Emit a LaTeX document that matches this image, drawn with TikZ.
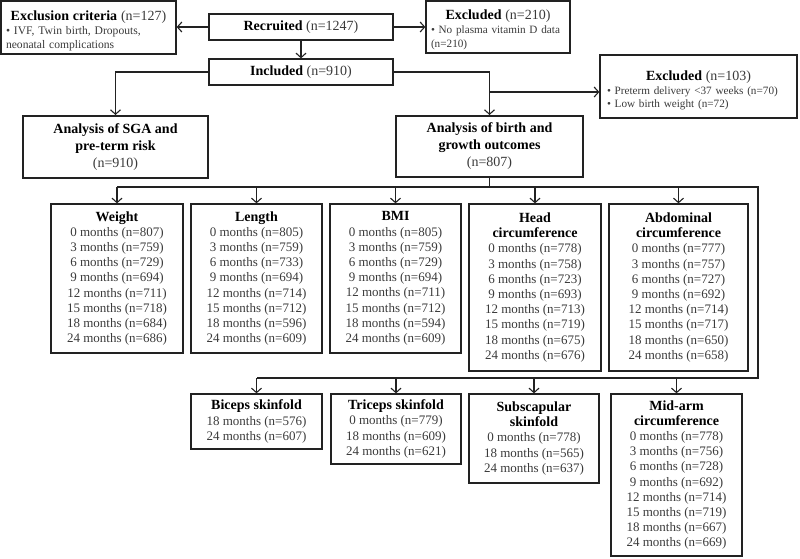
\documentclass[tikz,border=0pt]{standalone}
\usepackage{fontspec}
\setmainfont{Liberation Serif}
\usetikzlibrary{arrows.meta}
\definecolor{txtc}{HTML}{3A3A3A}
\definecolor{linec}{HTML}{222222}
\newcommand\hd[1]{{\fontsize{14}{16}\selectfont\bfseries\color{black}#1}}
\newcommand\hdl[2]{\makebox[\linewidth][c]{\rule{0pt}{#1}#2}}
\begin{document}
\begin{tikzpicture}[x=1pt,y=-1pt,
  box/.style={draw=linec,line width=1.3pt,inner sep=0pt,align=center,text=txtc,
    font=\fontsize{13}{15.2}\selectfont},
  bigbox/.style={box,line width=2pt,font=\fontsize{14}{17}\selectfont},
  exbox/.style={box,align=left,font=\fontsize{11.6}{14}\selectfont},
  wire/.style={draw=linec,line width=1.2pt},
  arr/.style={wire,-{Straight Barb[length=4.5pt,width=10pt,line width=1.1pt]}}
]
\useasboundingbox (0,0) rectangle (800,558);

% top row
\node[exbox,minimum width=175,minimum height=53,text width=165] (excl1) at (88.5,27.5)
  {\hdl{16pt}{{\fontsize{14}{16}\selectfont\hd{Exclusion criteria} (n=127)}}\\
   • IVF, Twin birth, Dropouts,\\ neonatal complications};
\node[box,minimum width=184,minimum height=26,font=\fontsize{14}{16}\selectfont] (rec) at (301,27)
  {\hd{Recruited} (n=1247)};
\node[exbox,minimum width=144,minimum height=52,text width=140,font=\fontsize{11.2}{14}\selectfont] (excl2) at (498,27)
  {\hdl{16pt}{{\fontsize{14}{16}\selectfont\hd{Excluded} (n=210)}}\\
   \hspace*{3pt}• No plasma vitamin D data\\ \hspace*{3pt}(n=210)};
\node[box,minimum width=184,minimum height=26,font=\fontsize{14}{16}\selectfont] (inc) at (301,72)
  {\hd{Included} (n=910)};
\node[exbox,minimum width=197,minimum height=63,text width=183,font=\fontsize{11.2}{13.5}\selectfont] (excl3) at (698.5,86.5)
  {\hdl{18pt}{{\fontsize{14}{16}\selectfont\hd{Excluded} (n=103)}}\\
   • Preterm delivery <37 weeks (n=70)\\ • Low birth weight (n=72)};

% analysis boxes
\node[bigbox,minimum width=185,minimum height=62] (sga) at (115.5,147)
  {\textbf{\color{black}Analysis of SGA and}\\ \textbf{\color{black}pre-term risk}\\ (n=910)};
\node[bigbox,minimum width=187,minimum height=61] (birth) at (489.5,146.5)
  {\textbf{\color{black}Analysis of birth and}\\ \textbf{\color{black}growth outcomes}\\ (n=807)};

% row 1
\node[box,minimum width=132,minimum height=149] (weight) at (117,278.5)
  {\hd{Weight}\\ 0 months (n=807)\\ 3 months (n=759)\\ 6 months (n=729)\\ 9 months (n=694)\\
   12 months (n=711)\\ 15 months (n=718)\\ 18 months (n=684)\\ 24 months (n=686)};
\node[box,minimum width=131,minimum height=149] (length) at (256.5,278.5)
  {\hd{Length}\\ 0 months (n=805)\\ 3 months (n=759)\\ 6 months (n=733)\\ 9 months (n=694)\\
   12 months (n=714)\\ 15 months (n=712)\\ 18 months (n=596)\\ 24 months (n=609)};
\node[box,minimum width=131,minimum height=149] (bmi) at (395.5,278.5)
  {\hd{BMI}\\ 0 months (n=805)\\ 3 months (n=759)\\ 6 months (n=729)\\ 9 months (n=694)\\
   12 months (n=711)\\ 15 months (n=712)\\ 18 months (n=594)\\ 24 months (n=609)};
\node[box,minimum width=132,minimum height=167] (head) at (535,287.5)
  {\hd{Head}\\ \hd{circumference}\\ 0 months (n=778)\\ 3 months (n=758)\\ 6 months (n=723)\\ 9 months (n=693)\\
   12 months (n=713)\\ 15 months (n=719)\\ 18 months (n=675)\\ 24 months (n=676)};
\node[box,minimum width=139,minimum height=167] (abd) at (678.5,287.5)
  {\hd{Abdominal}\\ \hd{circumference}\\ 0 months (n=777)\\ 3 months (n=757)\\ 6 months (n=727)\\ 9 months (n=692)\\
   12 months (n=714)\\ 15 months (n=717)\\ 18 months (n=650)\\ 24 months (n=658)};

% row 2
\node[box,minimum width=131,minimum height=55] (biceps) at (256.5,421.5)
  {\hd{Biceps skinfold}\\ 18 months (n=576)\\ 24 months (n=607)};
\node[box,minimum width=130,minimum height=70] (triceps) at (396,429)
  {\hd{Triceps skinfold}\\ 0 months (n=779)\\ 18 months (n=609)\\ 24 months (n=621)};
\node[box,minimum width=130,minimum height=89] (subsc) at (534,438.5)
  {\hd{Subscapular}\\ \hd{skinfold}\\ 0 months (n=778)\\ 18 months (n=565)\\ 24 months (n=637)};
\node[box,minimum width=131,minimum height=162] (midarm) at (676.5,475)
  {\hd{Mid-arm}\\ \hd{circumference}\\ 0 months (n=778)\\ 3 months (n=756)\\ 6 months (n=728)\\ 9 months (n=692)\\
   12 months (n=714)\\ 15 months (n=719)\\ 18 months (n=667)\\ 24 months (n=669)};

% connectors
\draw[arr] (rec.west) -- (rec.west -| excl1.east);
\draw[arr] (rec.east) -- (rec.east -| excl2.west);
\draw[arr] (rec.south) -- (inc.north);
\draw[arr] (inc.west) -| (sga.north);
\draw[arr] (inc.east) -| (birth.north);
\coordinate (br) at (489.5,92);
\draw[arr] (br) -- (br -| excl3.west);

\coordinate (busR) at (758,187);
\coordinate (busD) at (758,378);
\draw[wire] (birth.south) -- (birth.south |- busR);
\draw[wire] (weight.north |- busR) -- (busR) -- (busD) -- (biceps.north |- busD);
\foreach \n in {weight,length,bmi,head,abd}
  \draw[arr] (\n.north |- busR) -- (\n.north);
\foreach \n in {biceps,triceps,subsc,midarm}
  \draw[arr] (\n.north |- busD) -- (\n.north);
\end{tikzpicture}
\end{document}
